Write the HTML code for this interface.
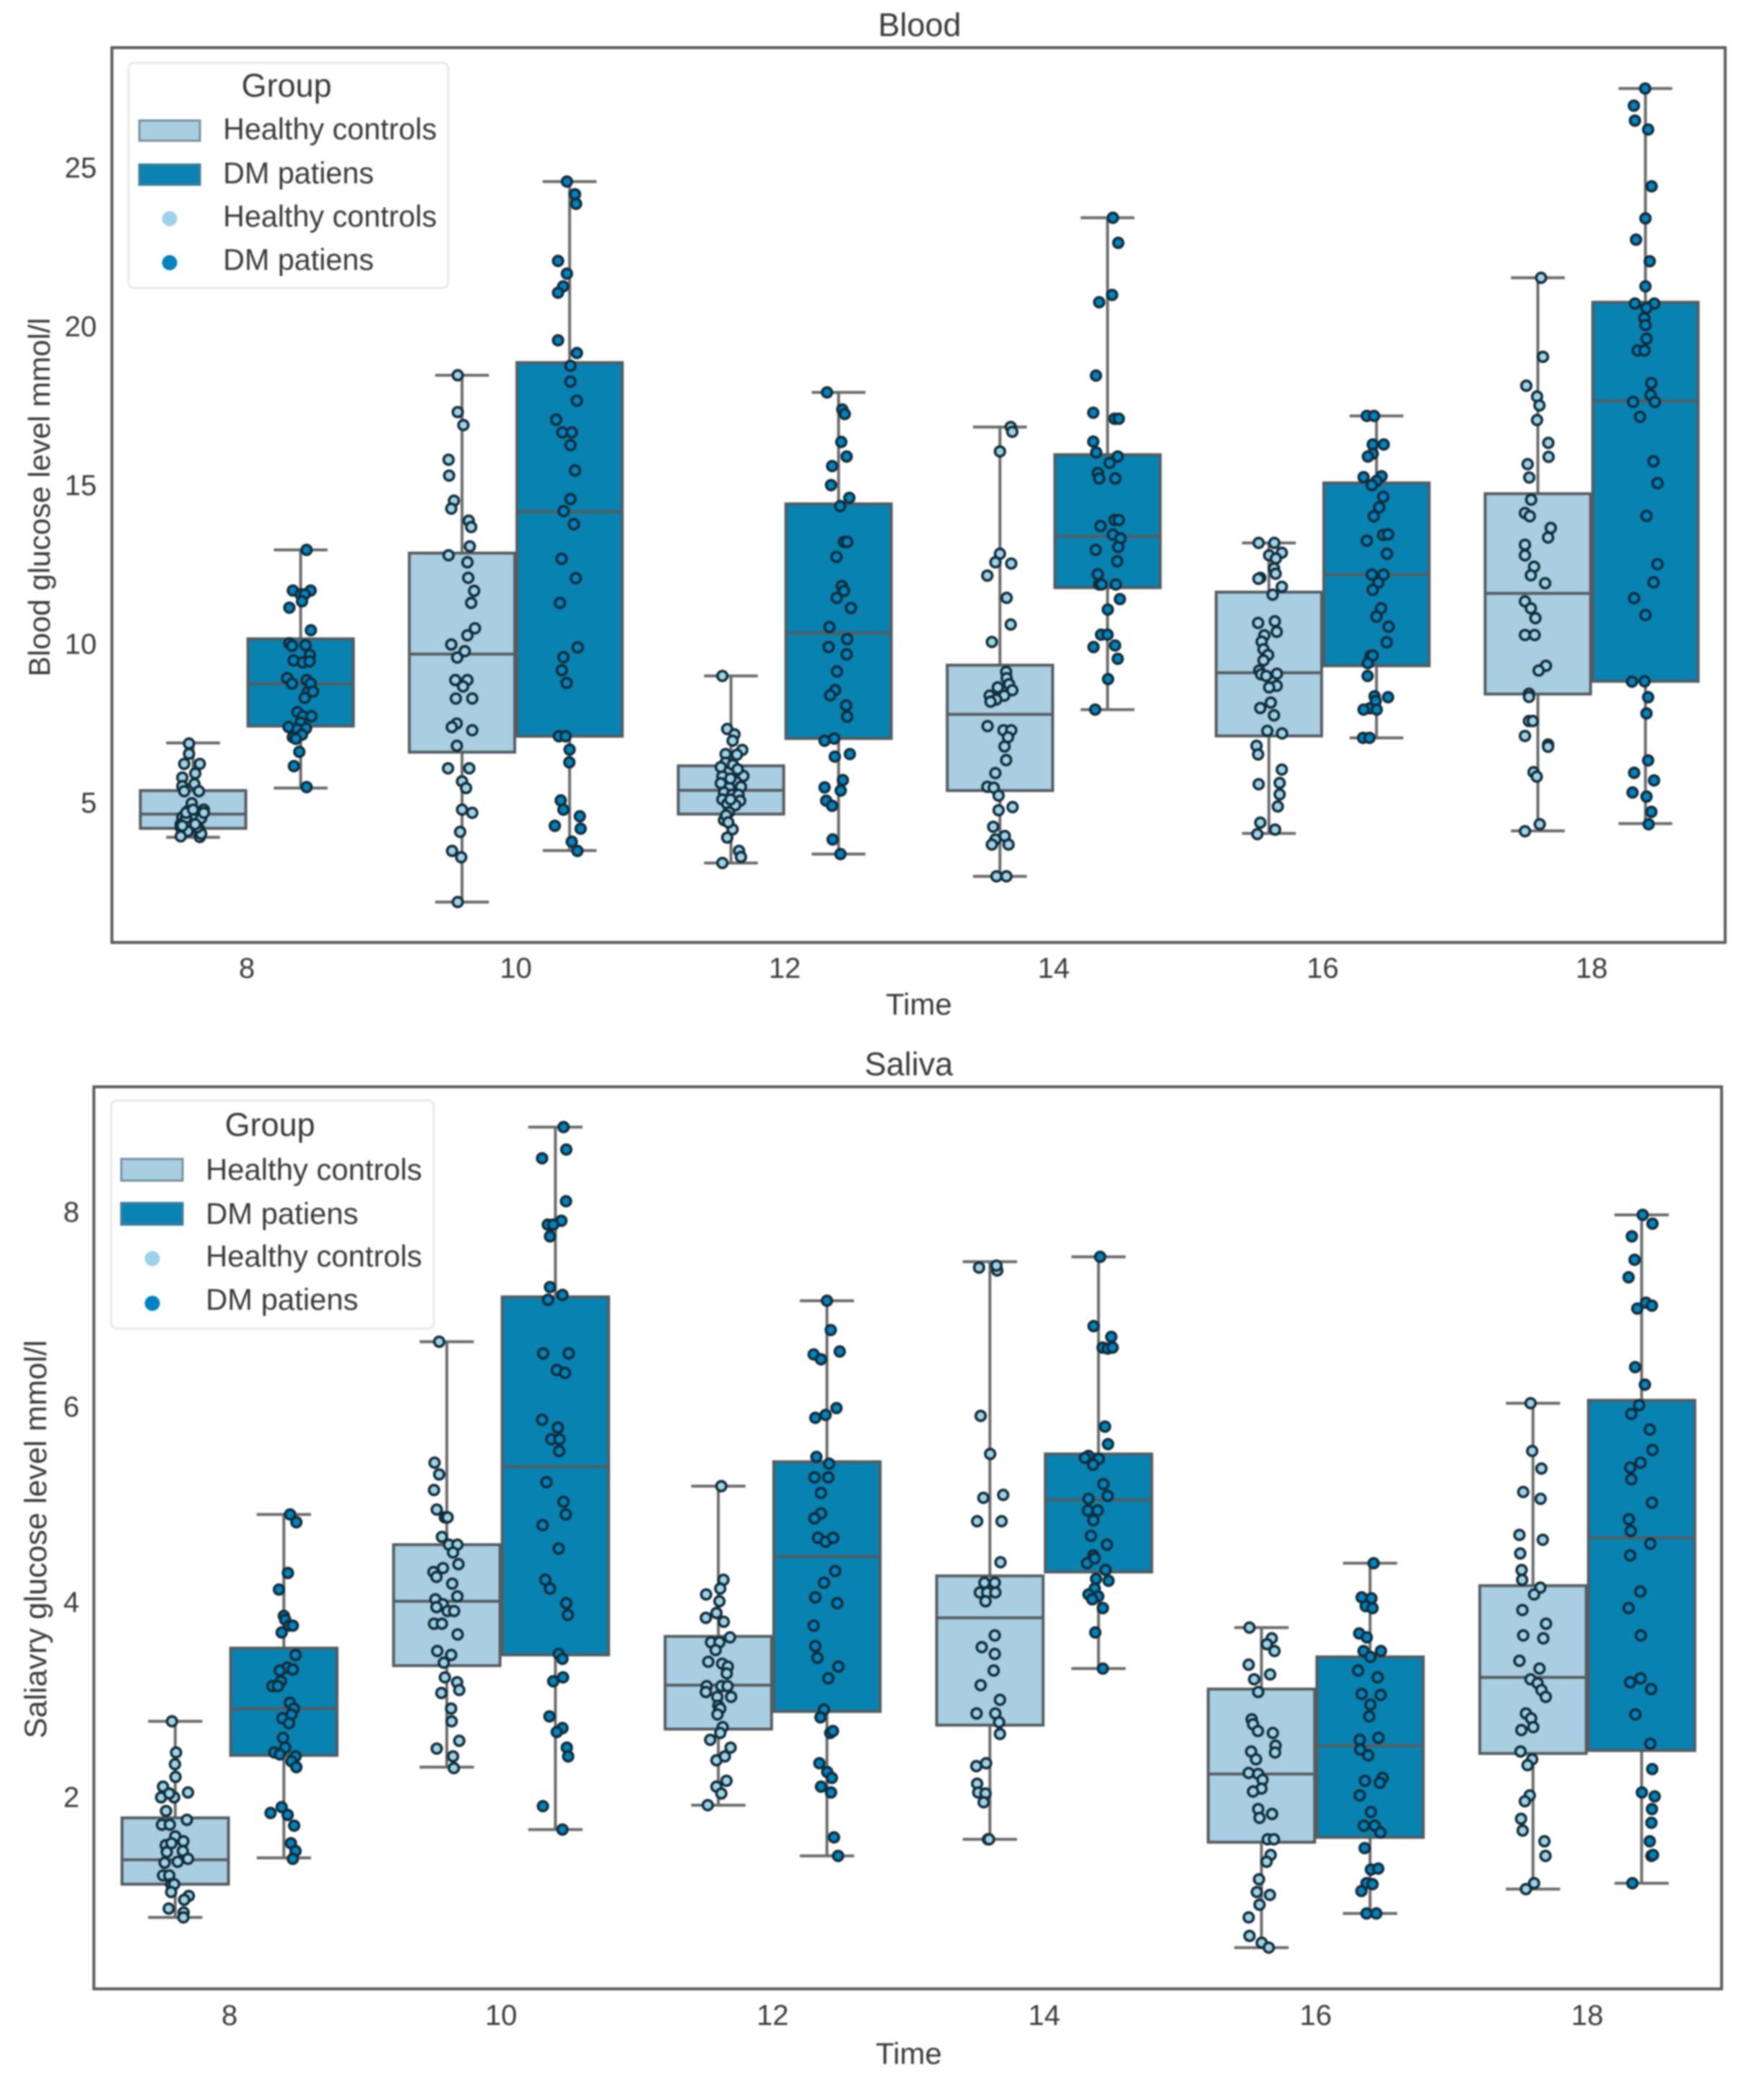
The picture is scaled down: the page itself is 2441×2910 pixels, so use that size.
<!DOCTYPE html>
<html lang="en">
<head>
<meta charset="utf-8">
<title>Blood and saliva glucose by time</title>
<style>
html,body{margin:0;padding:0;background:#fff;}
#chart-root{display:block;filter:blur(1.1px);}
text{font-family:"Liberation Sans",Arial,sans-serif;fill:#3a3a3a;}
</style>
</head>
<body>
<svg id="chart-root" xmlns="http://www.w3.org/2000/svg" width="2441" height="2910" viewBox="0 0 2441 2910">
  <rect x="0" y="0" width="2441" height="2910" fill="#ffffff"/>

  <g id="blood-panel">
    <rect x="155" y="66" width="2235" height="1240" fill="#fff" stroke="#5a5a5a" stroke-width="4"/>
    <g id="blood-marks"></g>
    <text x="1274" y="50" font-size="45" text-anchor="middle">Blood</text>
    <text x="1273" y="1406" font-size="42" text-anchor="middle">Time</text>
    <text transform="translate(69,689) rotate(-90)" font-size="42" text-anchor="middle">Blood glucose level mmol/l</text>
    <g>
      <rect x="178" y="87" width="443" height="312" rx="8" fill="#fff" stroke="#e8e8e8" stroke-width="3"/>
      <text x="397" y="134" font-size="45" text-anchor="middle">Group</text>
      <rect x="193" y="167" width="84" height="28" fill="#a9cee1" stroke="#77909d" stroke-width="3"/>
      <text x="309" y="193" font-size="41.3">Healthy controls</text>
      <rect x="193" y="228" width="84" height="28" fill="#0a83b2" stroke="#3f7d98" stroke-width="3"/>
      <text x="309" y="254" font-size="41.3">DM patiens</text>
      <circle cx="235" cy="303" r="10.5" fill="#9dd3e8"/>
      <text x="309" y="314" font-size="41.3">Healthy controls</text>
      <circle cx="235" cy="364" r="10.5" fill="#0083c0"/>
      <text x="309" y="374" font-size="41.3">DM patiens</text>
    </g>
  </g>

  <g id="saliva-panel">
    <rect x="130" y="1506" width="2255" height="1250" fill="#fff" stroke="#5a5a5a" stroke-width="4"/>
    <g id="saliva-marks"></g>
    <text x="1259" y="1490" font-size="45" text-anchor="middle">Saliva</text>
    <text x="1259" y="2860" font-size="42" text-anchor="middle">Time</text>
    <text transform="translate(64,2133) rotate(-90)" font-size="43" text-anchor="middle">Saliavry glucose level mmol/l</text>
    <g>
      <rect x="154" y="1525" width="447" height="316" rx="8" fill="#fff" stroke="#e8e8e8" stroke-width="3"/>
      <text x="374" y="1574" font-size="45" text-anchor="middle">Group</text>
      <rect x="168" y="1606" width="85" height="30" fill="#a9cee1" stroke="#77909d" stroke-width="3"/>
      <text x="285" y="1635" font-size="41.8">Healthy controls</text>
      <rect x="168" y="1667" width="85" height="30" fill="#0a83b2" stroke="#3f7d98" stroke-width="3"/>
      <text x="285" y="1696" font-size="41.8">DM patiens</text>
      <circle cx="211" cy="1744" r="10.5" fill="#9dd3e8"/>
      <text x="285" y="1755" font-size="41.8">Healthy controls</text>
      <circle cx="211" cy="1806" r="10.5" fill="#0083c0"/>
      <text x="285" y="1815" font-size="41.8">DM patiens</text>
    </g>
  </g>
</svg>
<script>
const timeLabels = [8, 10, 12, 14, 16, 18];
const bloodTickLabels = [5, 10, 15, 20, 25];
const salivaTickLabels = [2, 4, 6, 8];

const bloodHealthyLow = [3.95, 1.91, 3.14, 2.72, 4.07, 4.15];
const bloodHealthyQ1 = [4.23, 6.63, 4.68, 5.42, 7.14, 8.46];
const bloodHealthyMedian = [4.68, 9.72, 5.43, 7.82, 9.13, 11.63];
const bloodHealthyQ3 = [5.42, 12.9, 6.2, 9.37, 11.67, 14.77];
const bloodHealthyHigh = [6.92, 18.5, 9.03, 16.87, 13.22, 21.57];

const bloodDmLow = [5.5, 3.53, 3.42, 7.97, 7.08, 4.38];
const bloodDmQ1 = [7.45, 7.13, 7.06, 11.81, 9.35, 8.86];
const bloodDmMedian = [8.78, 14.2, 10.38, 13.43, 12.22, 17.69];
const bloodDmQ3 = [10.2, 18.9, 14.45, 16, 15.11, 20.8];
const bloodDmHigh = [13, 24.6, 17.96, 23.46, 17.22, 27.53];

const salivaHealthyLow = [0.78, 2.32, 1.93, 1.58, 0.47, 1.07];
const salivaHealthyQ1 = [1.12, 3.36, 2.71, 2.75, 1.55, 2.46];
const salivaHealthyMedian = [1.37, 4.02, 3.16, 3.85, 2.25, 3.24];
const salivaHealthyQ3 = [1.8, 4.6, 3.66, 4.28, 3.12, 4.18];
const salivaHealthyHigh = [2.79, 6.68, 5.2, 7.5, 3.75, 6.05];

const salivaDmLow = [1.39, 1.68, 1.41, 3.33, 0.82, 1.13];
const salivaDmQ1 = [2.44, 3.47, 2.89, 4.32, 1.6, 2.49];
const salivaDmMedian = [2.92, 5.4, 4.48, 5.06, 2.54, 4.67];
const salivaDmQ3 = [3.54, 7.14, 5.45, 5.53, 3.45, 6.08];
const salivaDmHigh = [4.91, 8.88, 7.1, 7.55, 4.41, 7.98];

const bloodHealthyPoints = [
[6.9,6.58,6.26,6.26,5.96,5.83,5.63,5.56,5.4,5.4,5.02,4.77,4.82,4.75,4.58,4.61,4.55,4.36,4.41,4.21,4.26,4.14,3.98,3.96,4.06,4.56,4.26,4.72,4.72,4.82,4.31,4.36],
[18.5,17.34,16.93,15.84,15.34,14.55,14.3,13.92,13.72,13.11,12.83,12.61,12.12,11.71,11.33,10.53,10.31,10.02,9.81,9.61,8.9,8.9,8.7,8.32,8.32,7.53,7.42,7.32,6.83,6.12,6.12,5.71,5.5,4.82,4.72,4.12,3.52,3.32,1.91],
[9.03,7.36,7.19,6.99,6.7,6.57,6.55,6.3,6.23,5.87,5.88,5.7,5.51,5.54,5.36,5.29,5.29,5.14,5.1,5,4.96,4.74,4.49,4.2,3.94,3.52,3.33,3.14,5.14,4.64,5.65,6.09,6.16,5.8,4.42],
[16.87,16.72,16.1,12.88,12.61,12.57,12.19,11.49,10.65,10.1,9.16,8.96,8.67,8.77,8.58,8.41,8.41,8.29,8.22,7.45,7.32,7.32,7.1,6.81,6.38,5.97,5.54,5.51,5.26,4.8,4.9,4.28,3.99,3.88,3.72,3.72,2.72,2.72],
[13.22,13.22,12.83,12.91,12.73,12.42,12.25,12.12,12.09,11.84,11.59,10.7,10.75,10.42,10.31,10.11,9.87,9.69,9.52,9.2,9.08,9.03,9.1,8.72,8.67,8.19,8.02,7.79,7.3,7.22,6.83,6.56,6.08,5.66,5.62,5.3,4.92,4.41,4.19,4.05],
[21.57,19.08,18.17,17.83,17.55,17.09,16.37,15.93,15.7,15.28,14.58,14.16,14.06,13.69,13.39,13.16,12.83,12.47,12.2,11.95,11.38,11.16,10.85,10.32,10.32,9.35,9.2,8.47,8.37,7.61,7.61,7.14,6.87,6.8,6,5.86,4.36,4.14]
];
const bloodHealthyJitter = [
[-1.5,-1.5,-3.3,2.5,0.8,-4,0.5,-4,-3.3,2.2,-0.5,-2,4,1.5,-4,0,3,-4.6,-1.5,2.2,-4.6,-2,-4.6,2.5,3,-2.6,1.5,4,-2.6,0,-4,0.8],
[-1.6,-1.6,0.5,-5,-4.8,-3,-4,2.5,3.4,2.9,-5,2,2.3,4.5,3.4,4.8,2,-4,1,-1.8,-2.5,2,0.4,-2.3,3.8,-2,-3.8,3.8,-1.9,-5.2,2.7,0,1.5,0,3.8,-0.7,-3.7,-0.3,-1.6],
[-3.2,-1.4,1.3,0.6,4.2,-2,2.2,-2,0.7,-3.2,4.6,1.8,-0.6,3.7,-2.6,0.4,2.8,-3.2,3.4,-1.4,1.6,-0.8,-2.6,0.6,-1.4,3,3.7,-3.2,-0.2,-1.8,-3.8,2.5,-3.8,-0.2,-1],
[4,4.6,0,0,-1.7,4.2,-4.7,2.5,4,-3,2.3,2.5,-0.8,3.4,4.6,-3.8,1.6,-1.4,-3.5,-4.6,1.3,4.2,3,1.7,2.3,-1.7,-4.7,-2.3,-0.5,-0.5,4.7,-2.5,1.8,-1.7,-3,3.2,-1.3,2.4],
[-3.8,2,0.1,4.8,2.6,1.9,2.5,-3.2,-3.9,4.8,1.4,-4,2.2,2.9,-1.7,-2.7,-2,-0.3,-2,-3.6,-2.9,-1,3,2.9,0.1,0.7,-3.2,1.9,-0.6,4.9,-4.6,-4,4.8,4,-3.8,4,3.3,-3.2,2.3,-4.3],
[1.2,1.9,-4.3,-0.3,0.6,-0.3,3.9,4,-3.8,-3.2,-2.5,-4.8,-3,4.8,3.8,-4.8,-4.8,-1.4,-2.6,2.7,-4.8,-2.6,-0.9,-4.8,-1.2,3,0.3,-3.3,-3.3,-3.3,-1.9,-4.8,3.8,3.8,-1.6,-0.4,0.7,-4.8]
];
const bloodDmPoints = [
[13,11.72,11.72,11.6,11.6,11.38,11.18,10.47,10.06,9.98,10,9.69,9.52,9.46,9.49,8.96,8.79,8.9,8.79,8.52,8.54,8.34,7.89,7.76,7.76,7.56,7.42,7.35,7.38,7.18,7.1,7.05,6.64,6.19,5.53],
[24.6,24.2,23.9,22.1,21.7,21.3,21.1,19.6,19.2,18.8,18.3,17.7,17.1,16.7,16.7,16.3,15.5,14.6,14.22,13.81,12.72,12.11,11.33,9.93,9.62,9.21,8.81,7.13,7.13,6.71,6.31,5.11,4.82,4.61,4.31,4.22,3.81,3.52],
[17.96,17.42,17.28,16.4,15.94,15.64,15.04,14.64,14.38,13.25,13.25,12.78,11.86,11.71,11.49,11.17,10.57,10.19,9.94,9.71,9.17,8.58,8.42,8.1,7.75,6.99,7.06,6.49,6.57,5.75,5.52,5.42,5.1,4.94,3.88,3.42],
[23.46,22.67,21.03,20.8,18.49,17.32,17.13,17.13,16.41,16.07,15.94,15.74,15.42,15.25,15.25,13.94,13.94,13.75,13.48,13.36,13.09,13,12.64,12.23,11.91,11.91,11.91,11.45,11.12,10.33,10.33,9.94,9.99,9.57,8.93,7.97],
[17.22,17.22,16.32,16.32,16.03,15.94,15.29,15.32,15.17,15.04,14.67,14.34,14.06,13.47,13.49,13.29,12.88,12.22,12.22,11.97,11.74,11.16,10.9,10.58,10.09,9.66,9.67,9.43,9.03,8.39,8.36,8.24,8.01,7.97,7.97,7.08,7.08],
[27.53,26.99,26.52,26.24,24.45,23.44,22.77,22.09,21.3,20.76,20.76,20.62,20.3,20.08,19.65,19.28,19.28,18.25,17.88,17.66,17.66,17.19,15.79,15.1,14.07,12.55,11.98,11.48,10.95,8.85,8.86,8.36,7.85,6.37,5.98,5.74,5.36,5.23,4.75,4.36]
];
const bloodDmJitter = [
[2.2,-2.9,3.7,0,1.5,0.5,-4.2,3.8,-4.2,-3.2,1.8,3.4,-2.6,0.8,3.3,-5,-3.2,2.2,3.7,2.6,4.6,1.5,-1.2,0.8,4,0,-4.5,-1.2,2,0.5,-2.9,-1.8,-0.5,-2.5,2.2],
[-1,2,2.4,-4.3,-1,-2.4,-4.3,-4.3,2.7,0.3,0.3,2.7,-5,-2.7,0.8,0.3,2,0.3,-2.2,1.6,-3,2.3,-3.6,3,-2.3,-2.9,-1.1,-4,-1.5,0,-0.1,-3.3,-2.3,3.8,-5.5,4.1,0.8,2.9],
[-4.3,1.4,2.3,1,3,-2.4,-2.8,4,0.6,2,3.2,-0.8,1.2,2,-0.7,4.6,-3.4,3.2,-3.7,3,-0.6,-1.3,-3.1,2.8,3.2,-5.2,-1.6,-1.4,4.2,1.6,-5.2,0.8,-4.6,-2.4,-2.2,0.7],
[2,4,1.7,-3.1,-4.3,-5.3,2.6,4.2,-5.3,-4.2,3.8,0.8,-3.6,-3.1,2.9,2.6,4.2,-2.6,2,4.8,4,-4.4,3.6,-3.6,-3.1,-2.2,3.1,4.6,0.1,-2.4,0,-5.2,2.8,3.8,0.2,-4.6],
[-3.6,-0.9,-1.4,2.7,-1.4,-3.2,-4.8,1.9,0,-1.7,2.5,1,-1,2.5,4.3,-3.6,3.9,-1.7,2.6,0.7,-1.4,1.7,0,4.5,3.8,-2.2,-1.4,-3.2,-3.3,-0.7,4.3,-0.3,-2.5,-4.8,0.1,-5,-2.6],
[-0.1,-4.3,-3.9,1,2.3,0,-3.5,1.6,0,-3.9,3.3,0.4,-0.4,0,0.4,-2.9,-0.3,2.2,1.9,-4.6,3.5,-2,3,4.5,0.4,4.5,3,-4.2,0,-5,-0.3,1,0.4,1,-4.2,3.2,-4.8,0.4,2.2,1.2]
];
const salivaHealthyPoints = [
[2.79,2.47,2.35,2.22,2.12,2.06,2.01,2.01,2.05,1.87,1.78,1.73,1.73,1.61,1.56,1.52,1.54,1.45,1.46,1.38,1.35,1.34,1.21,1.21,1.12,1.12,1.04,1,0.96,0.87,0.83,0.78],
[6.68,5.44,5.32,5.16,4.96,4.88,4.88,4.68,4.6,4.6,4.52,4.36,4.4,4.32,4.27,4.2,4.07,4.04,3.99,3.96,3.92,3.92,3.79,3.79,3.68,3.51,3.47,3.39,3.24,3.19,3.11,3.08,2.92,2.79,2.59,2.51,2.43,2.31],
[5.2,4.24,4.15,4.09,4.02,3.9,3.85,3.81,3.65,3.6,3.6,3.52,3.4,3.38,3.35,3.28,3.15,3.15,3.15,3.09,3.04,3.04,2.95,2.92,2.86,2.73,2.67,2.6,2.52,2.39,2.43,2.18,2.12,2.05,1.93],
[7.44,7.41,7.46,5.92,5.53,5.08,5.11,4.84,4.84,4.42,4.21,4.21,4.11,4.11,4.11,4.02,3.67,3.55,3.48,3.31,3.16,3.01,2.87,2.87,2.78,2.66,2.36,2.33,2.15,2.06,2.05,1.96,1.58,1.58],
[3.75,3.64,3.58,3.51,3.37,3.27,3.22,3.09,2.81,2.76,2.69,2.67,2.54,2.47,2.48,2.4,2.26,2.25,2.19,2.1,2.07,1.89,1.84,1.8,1.58,1.58,1.42,1.35,1.17,1.04,1.01,0.91,0.78,0.59,0.52,0.47],
[6.05,5.56,5.38,5.14,5.07,4.7,4.65,4.51,4.34,4.24,4.16,4.09,3.93,3.79,3.67,3.64,3.41,3.33,3.22,3.18,3.11,3.04,2.87,2.82,2.7,2.73,2.48,2.4,2.34,2.03,1.97,1.79,1.67,1.56,1.41,1.13,1.07]
];
const salivaHealthyJitter = [
[-1.2,0.3,-0.1,0.1,-4.5,4.7,-5.2,-0.4,-2.2,-3.4,4.3,-4.9,-2,0,3,-3.5,-1.4,-3.1,2.8,4.7,0.9,-3.9,-4.5,-2.2,-1.5,-0.4,-1.5,5,3.3,-2.4,3.1,3],
[-2.8,-4.5,-2.8,-4.7,-3.7,-0.7,0.3,-1.8,0.8,3.9,2.3,-1.4,4.3,-4.9,-3.8,2,3.9,-4.2,-1.5,-3.8,0.3,2.7,-4.7,-1.8,4,-3.5,1.6,-1.1,-0.7,3.8,4.6,-2,1.6,1.8,4.6,-3.7,2.3,2.6],
[1.1,1.9,0.7,-4.5,0.4,-0.7,-4.6,2,4.3,-2.7,0.4,-1,-3.7,1.4,3.5,3.1,-4.3,1.1,3.4,-4.6,-0.4,4.7,0,0.7,-0.3,1.6,0.7,-3,4.5,-0.7,2.4,3,-0.7,1.1,-3.9],
[-4,2.7,2.4,-3.4,0.1,-2.4,4.9,-4.7,4.3,3.9,-2,1.8,-3.7,-1,2,-1.6,1.8,-3,1.8,1.4,-3.4,3.7,-4.9,2,3.4,3.7,-1.4,-5,-4.7,-4.3,-1.6,-2.3,-0.7,-0.3],
[-4.4,3.8,2,4.8,-4.7,3.2,-2.7,-1.2,-3.6,-3.1,-1.3,4.2,5.2,5,-3.8,-2,-4.7,-1.2,0.4,0,-3.1,-1.2,3.9,-0.7,2.3,4.6,3.4,1.9,-0.9,-1.7,3.1,-0.7,-4.7,-4.4,0.1,2.7],
[-0.9,-0.3,3.1,-3.6,2.8,-5,3.6,-4.7,-4.2,-4,2.7,0.4,-3.9,4.8,-3.6,3.8,-5,2.4,-0.9,1.7,3.1,4.7,-2.6,-0.7,-4.3,0.1,-4.6,-0.3,-2,-1.2,-3,-4.4,-3.8,4.2,4.6,0.4,-2.6]
];
const salivaDmPoints = [
[4.91,4.83,4.31,4.14,3.87,3.83,3.77,3.77,3.7,3.47,3.34,3.32,3.31,3.2,3.15,3.15,2.98,2.92,2.86,2.82,2.77,2.62,2.52,2.47,2.45,2.43,2.38,2.32,1.91,1.85,1.83,1.72,1.54,1.46,1.38],
[8.88,8.65,8.56,8.12,7.92,7.88,7.88,7.76,7.24,7.16,7.11,6.56,6.56,6.39,6.36,5.88,5.8,5.68,5.68,5.56,5.24,5.04,4.91,4.8,4.56,4.24,4.15,4,3.88,3.48,3.43,3.24,3.2,2.84,2.72,2.68,2.52,2.43,1.92,1.68],
[7.1,6.8,6.55,6.5,6.58,6,5.93,5.9,5.5,5.43,5.29,5.29,5.13,4.92,4.87,4.67,4.63,4.67,4.33,4.21,4.06,4,3.77,3.56,3.44,3.35,3.23,2.91,2.83,2.67,2.69,2.36,2.27,2.21,2.12,2.06,1.6,1.41],
[7.55,6.84,6.73,6.62,6.61,6.62,5.81,5.63,5.51,5.49,5.48,5.42,5.22,5.07,5.1,4.95,4.95,4.85,4.69,4.6,4.49,4.41,4.46,4.34,4.23,4.25,4.15,4.09,4.07,4.04,3.95,3.7,3.33],
[4.41,4.06,4.05,3.97,3.95,3.69,3.65,3.51,3.51,3.45,3.31,3.24,3.07,3.06,2.96,2.84,2.62,2.6,2.5,2.44,2.21,2.16,2.18,2.03,1.86,1.72,1.72,1.65,1.49,1.27,1.28,1.13,1.12,1.05,0.82,0.82],
[7.98,7.89,7.76,7.52,7.34,7.08,7.02,7.05,6.42,6.24,6.03,5.94,5.78,5.57,5.44,5.39,5.27,5.03,4.86,4.74,4.61,4.49,4.12,3.95,3.67,3.23,3.19,3.12,2.86,2.56,2.3,2.06,2.02,1.89,1.75,1.56,1.41,1.42,1.13]
];
const salivaDmJitter = [
[2.3,4.6,1.5,-1.8,0,0.5,1.9,3.3,-0.8,4.3,1.2,3.3,-1.5,-1.1,-4.2,-2.2,2.2,3.7,2.8,-0.5,1.9,-0.3,0.5,-3.5,-1.5,4.3,2.8,4.6,-0.8,-4.9,1.4,3.8,2.6,4.3,3.3],
[3,4,-4.9,3.9,2.2,-2.8,-0.8,-2,-2,2.6,-2.7,-4.5,4.9,0.5,3.5,-4.9,0.9,-1.5,1.5,1.4,-3.3,3,3.8,-4.7,1.2,-3.7,-2,4,4.6,1.2,2.6,2.8,-0.8,-2.2,2.6,0.5,4.2,4.7,-4.6,2.6],
[0,1.4,-4.9,-2.2,4.7,3.5,-0.5,-4.3,-3.9,0.8,-4.6,0.5,-2.2,-2.2,-4.6,-3.3,-0.5,2.3,3,-1.1,-4.3,3.8,-4.9,-4.3,-3.5,4.2,0.5,-1.1,-2.4,1.2,2.2,-2.8,0.1,1.8,-2.2,1.5,2.6,4.1],
[0.6,-1.8,4.7,1.5,3.4,5.2,2.4,3.5,-3.7,-5,0.1,-2,1.8,-3.7,3.4,-3.9,-0.3,-1.9,-2.8,3.1,-1.9,-4.2,-1.4,2.6,3.7,-0.9,-1.4,-3.7,-0.1,-2.3,1.6,-1.2,1.6],
[1.3,-3.1,0.5,-1.6,0.9,-4,-1.2,-2.4,4,0.1,-4.4,2.8,-3.1,3.9,0.1,-0.3,3.1,-3.8,-3.6,-0.7,4.6,3.6,-1.9,-3.8,0.3,-2.3,1.7,3.8,-2,0.3,3,-1.3,0.9,-3.2,-1.3,2.3],
[0.4,4,-3.6,-2.6,-4.8,1.6,-1.6,3.8,-2.4,1.2,-0.9,-3.8,3,4,-0.4,-4.2,-3.8,3.8,-4.7,-4,3.2,-4.2,-0.5,-4.8,-0.3,-0.4,-4.2,3.5,-2.3,3.2,3.9,0.1,4.8,3.8,3.6,3,3.6,4.2,-3.4]
];

const SVG_NS = 'http://www.w3.org/2000/svg';

function makeEl(tag, parent, props) {
  const el = document.createElementNS(SVG_NS, tag);
  for (const key in props) {
    el.setAttribute(key, props[key]);
  }
  parent.appendChild(el);
  return el;
}

function drawBox(parent, prefix, cx, halfBox, halfCap, yScale, low, q1, med, q3, high, fill) {
  const edge = '#555c60';
  const whiskerLow = makeEl('line', parent, {x1: cx, x2: cx, y1: yScale(q1), y2: yScale(low), stroke: '#6a6a6a', 'stroke-width': 4});
  
  
  const whiskerHigh = makeEl('line', parent, {x1: cx, x2: cx, y1: yScale(q3), y2: yScale(high), stroke: '#6a6a6a', 'stroke-width': 4});
  
  
  const capLow = makeEl('line', parent, {x1: cx - halfCap, x2: cx + halfCap, y1: yScale(low), y2: yScale(low), stroke: '#6a6a6a', 'stroke-width': 4});
  
  
  const capHigh = makeEl('line', parent, {x1: cx - halfCap, x2: cx + halfCap, y1: yScale(high), y2: yScale(high), stroke: '#6a6a6a', 'stroke-width': 4});
  
  
  const box = makeEl('rect', parent, {x: cx - halfBox, width: halfBox * 2, y: yScale(q3), height: yScale(q1) - yScale(q3), fill: fill, stroke: edge, 'stroke-width': 4});
  
  
  const median = makeEl('line', parent, {x1: cx - halfBox, x2: cx + halfBox, y1: yScale(med), y2: yScale(med), stroke: edge, 'stroke-width': 4});
  
  
}

function drawPanel(panel) {
  const host = document.getElementById(panel.hostId);
  const xBase = function (i) { return panel.x0 + i * panel.step; };
  const yScale = function (v) { return panel.yRef - (v - panel.vRef) * panel.pxPerUnit; };
  const halfBox = 0.196 * panel.step;
  const halfCap = 0.1 * panel.step;
  const offset = 0.2 * panel.step;

  timeLabels.forEach(function (label, i) {
    const tick = makeEl('text', host, {x: xBase(i), y: panel.xLabelY, 'font-size': 40, 'text-anchor': 'middle'});
    tick.textContent = label;
    
    
  });
  panel.ticks.forEach(function (label) {
    const tick = makeEl('text', host, {x: panel.yLabelX, y: yScale(label) + 12, 'font-size': 40, 'text-anchor': 'end'});
    tick.textContent = label;
    
    
  });

  panel.groups.forEach(function (group) {
    timeLabels.forEach(function (label, i) {
      const cx = xBase(i) + group.sign * offset;
      const prefix = panel.name + '-' + group.key + '-' + label;
      drawBox(host, prefix, cx, halfBox, halfCap, yScale, group.low[i], group.q1[i], group.median[i], group.q3[i], group.high[i], group.fill);
    });
  });
  panel.groups.forEach(function (group) {
    timeLabels.forEach(function (label, i) {
      const cx = xBase(i) + group.sign * offset;
      group.points[i].forEach(function (value, k) {
        const jit = group.jitter[i][k] || 0;
        const dot = makeEl('circle', host, {cx: cx + jit / 100 * panel.step, cy: yScale(value), r: 6.8, fill: group.dot, stroke: '#122c38', 'stroke-width': 3.6});
        
        
      });
    });
  });
}

drawPanel({
  name: 'blood', hostId: 'blood-marks', x0: 342, step: 372.6, yRef: 1114, vRef: 5, pxPerUnit: 44,
  xLabelY: 1355, yLabelX: 134, ticks: bloodTickLabels,
  groups: [
    {key: 'healthy', sign: -1, fill: '#a9cee1', dot: '#9dd3e8', low: bloodHealthyLow, q1: bloodHealthyQ1, median: bloodHealthyMedian, q3: bloodHealthyQ3, high: bloodHealthyHigh, points: bloodHealthyPoints, jitter: bloodHealthyJitter},
    {key: 'dm', sign: 1, fill: '#0782b1', dot: '#0083c0', low: bloodDmLow, q1: bloodDmQ1, median: bloodDmMedian, q3: bloodDmQ3, high: bloodDmHigh, points: bloodDmPoints, jitter: bloodDmJitter}
  ]
});

drawPanel({
  name: 'saliva', hostId: 'saliva-marks', x0: 318, step: 376.2, yRef: 2492, vRef: 2, pxPerUnit: 135.2,
  xLabelY: 2806, yLabelX: 110, ticks: salivaTickLabels,
  groups: [
    {key: 'healthy', sign: -1, fill: '#a9cee1', dot: '#9dd3e8', low: salivaHealthyLow, q1: salivaHealthyQ1, median: salivaHealthyMedian, q3: salivaHealthyQ3, high: salivaHealthyHigh, points: salivaHealthyPoints, jitter: salivaHealthyJitter},
    {key: 'dm', sign: 1, fill: '#0782b1', dot: '#0083c0', low: salivaDmLow, q1: salivaDmQ1, median: salivaDmMedian, q3: salivaDmQ3, high: salivaDmHigh, points: salivaDmPoints, jitter: salivaDmJitter}
  ]
});
</script>
</body>
</html>
